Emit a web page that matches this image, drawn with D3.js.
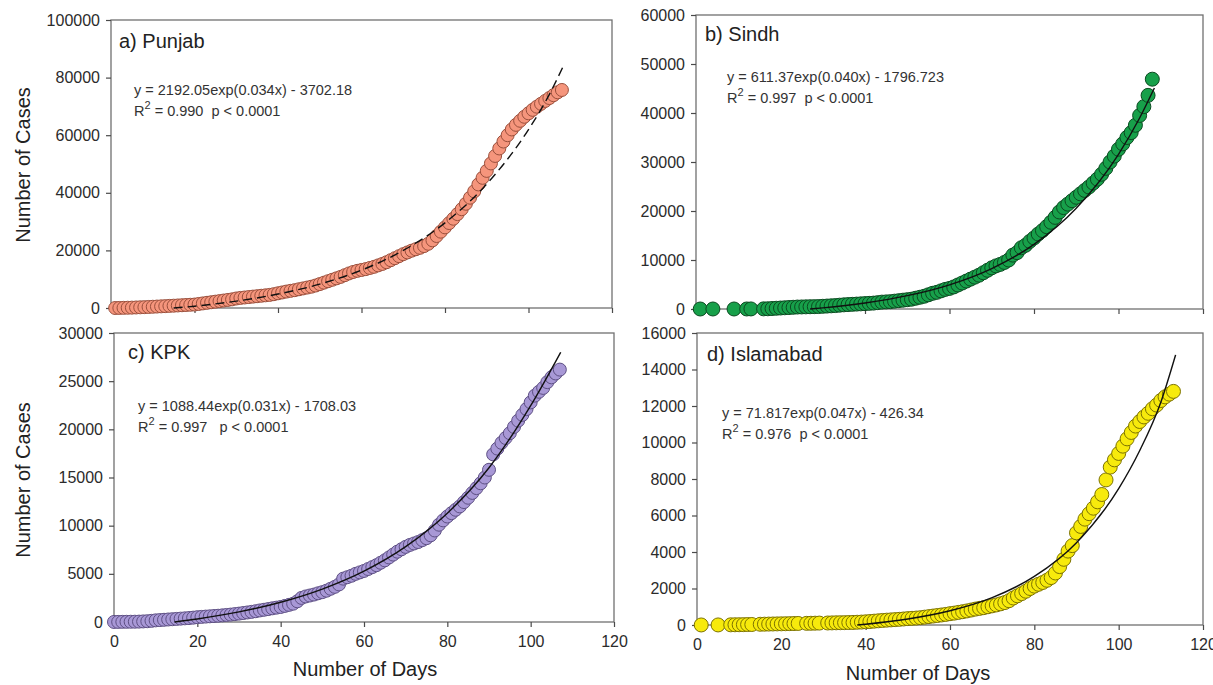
<!DOCTYPE html>
<html>
<head>
<meta charset="utf-8">
<script src="https://cdn.jsdelivr.net/npm/d3@7"></script>
<style>
body { margin: 0; background: #fff; }
svg { display: block; font-family: "Liberation Sans", Arial, sans-serif; }
</style>
</head>
<body>
<svg id="chart" width="1213" height="685"></svg>
<script>
// ---- data ----
var dayTicks = [0, 20, 40, 60, 80, 100, 120];

var punjabTicks = [0, 20000, 40000, 60000, 80000, 100000];
var punjabDays = [1,2,3,4,5,6,7,8,9,10,11,12,13,14,15,16,17,18,19,20,21,22,23,24,25,26,27,28,29,30,
	31,32,33,34,35,36,37,38,39,40,41,42,43,44,45,46,47,48,49,50,51,52,53,54,55,56,57,58,59,60,
	61,62,63,64,65,66,67,68,69,70,71,72,73,74,75,76,77,78,79,80,81,82,83,84,85,86,87,88,89,90,
	91,92,93,94,95,96,97,98,99,100,101,102,103,104,105,106,107,108];
var punjabCases = [0,20,50,90,130,180,240,300,360,430,500,570,650,730,800,880,960,1040,1120,1200,
	1400,1600,1800,2000,2200,2400,2600,2800,3000,3300,3500,3650,3800,3950,4100,4250,4400,4550,4800,5100,
	5400,5700,5950,6200,6500,6800,7100,7400,7800,8300,8800,9300,9800,10300,10800,11400,12000,12500,12900,13200,
	13500,13900,14300,14800,15300,15900,16600,17300,18000,18700,19300,19900,20400,20900,21500,22300,23500,25000,26500,28000,
	29500,31000,32600,34300,36200,38300,40500,42900,45200,47600,50200,52800,55400,57800,60000,62000,63600,65000,66400,67600,
	68800,69900,70900,71900,72900,73900,74900,75700];
var punjabFitDays = [15, 20, 30, 40, 50, 60, 70, 80, 90, 100, 105, 108.5];
var punjabFit = [0, 625, 2380, 4840, 8300, 13160, 19980, 29570, 43060, 61970, 74160, 84500];

var sindhTicks = [0, 10000, 20000, 30000, 40000, 50000, 60000];
var sindhDays = [1,4,9,12,13,16,17,18,19,20,21,22,23,24,25,26,27,28,29,30,
	31,32,33,34,35,36,37,38,39,40,41,42,43,44,45,46,47,48,49,50,51,52,53,54,55,56,57,58,59,60,
	61,62,63,64,65,66,67,68,69,70,71,72,73,74,75,76,77,78,79,80,81,82,83,84,85,86,87,88,89,90,
	91,92,93,94,95,96,97,98,99,100,101,102,103,104,105,106,107,108];
var sindhCases = [1,2,2,4,15,30,50,100,150,200,250,300,350,400,420,440,460,480,500,550,
	600,650,700,780,850,900,950,1000,1050,1100,1150,1200,1300,1400,1450,1500,1600,1700,1800,1900,2000,2200,2400,2600,2900,3200,3400,3700,4000,4200,
	4500,4900,5300,5700,6100,6500,6900,7400,7900,8400,8800,9100,9500,10000,11000,11500,12500,13000,13800,14500,15300,16000,16800,17700,18700,19800,20700,21400,22100,22800,
	23500,24200,24900,25700,26500,27500,28700,30000,31200,32600,33700,35000,36000,37500,39500,41300,43600,46900];
var sindhFitDays = [27, 30, 40, 50, 60, 70, 80, 90, 100, 105, 108.5];
var sindhFit = [0, 230, 1230, 2720, 4940, 8260, 13200, 20580, 31580, 38970, 45100];

var kpkTicks = [0, 5000, 10000, 15000, 20000, 25000, 30000];
var kpkDays = [0,1,2,3,4,5,6,7,8,9,10,11,12,13,14,15,16,17,18,19,20,21,22,23,24,25,26,27,28,29,30,
	31,32,33,34,35,36,37,38,39,40,41,42,43,44,45,46,47,48,49,50,51,52,53,54,55,56,57,58,59,60,
	61,62,63,64,65,66,67,68,69,70,71,72,73,74,75,76,77,78,79,80,81,82,83,84,85,86,87,88,89,90,
	91,92,93,94,95,96,97,98,99,100,101,102,103,104,105,106,107];
var kpkCases = [5,10,15,20,25,30,40,60,80,120,170,200,230,260,290,320,350,380,410,450,500,
	530,560,590,620,650,690,730,770,820,870,930,990,1050,1120,1200,1270,1340,1420,1490,1560,
	1670,1780,1900,2150,2500,2650,2750,2850,2980,3100,3250,3450,3650,3900,4500,4650,4800,5000,5150,5300,
	5500,5700,5900,6150,6400,6700,7000,7300,7550,7800,8000,8150,8300,8500,8700,9000,9500,10100,10550,10950,
	11300,11650,12000,12450,12900,13400,13900,14400,15000,15800,17400,18000,18600,19100,19600,20250,20900,21500,22100,22800,
	23500,23900,24300,24900,25400,25800,26200];
var kpkFitDays = [14.5, 20, 30, 40, 50, 60, 70, 80, 90, 100, 107.2];
var kpkFit = [0, 315, 1050, 2050, 3420, 5280, 7820, 11290, 16010, 22460, 28000];

var islamabadTicks = [0, 2000, 4000, 6000, 8000, 10000, 12000, 14000, 16000];
var islamabadDays = [1,5,8,9,10,11,12,13,15,16,17,18,19,20,21,22,23,24,26,27,28,29,31,32,33,34,35,36,37,38,39,40,
	41,42,43,44,45,46,47,48,49,50,51,52,53,54,55,56,57,58,59,60,61,62,63,64,65,66,67,68,69,70,
	71,72,73,74,75,76,77,78,79,80,81,82,83,84,85,86,87,88,89,90,91,92,93,94,95,96,97,98,99,100,
	101,102,103,104,105,106,107,108,109,110,111,112,113];
var islamabadCases = [2,4,10,12,15,20,25,28,40,45,50,55,60,65,70,75,80,85,90,95,100,105,110,115,120,125,130,135,140,150,160,175,
	190,210,230,250,265,280,295,310,330,350,365,380,400,430,460,490,520,550,580,620,650,690,730,770,820,870,910,950,1000,1050,
	1100,1160,1230,1330,1480,1600,1720,1850,2000,2130,2230,2330,2450,2600,2850,3200,3600,4050,4350,5050,5400,5800,6100,6400,6750,7150,7950,8650,9050,9400,
	9800,10200,10550,10900,11150,11400,11600,11850,12050,12300,12500,12650,12800];
var islamabadFitDays = [38, 40, 50, 60, 70, 80, 90, 100, 105, 110, 113.5];
var islamabadFit = [0, 45, 330, 780, 1500, 2660, 4510, 7470, 9560, 12210, 14800];

var svg = d3.select("#chart");

// panel boxes, in pixels
var panels = [
	{title: "a) Punjab", days: punjabDays, cases: punjabCases, fitDays: punjabFitDays, fit: punjabFit, ticks: punjabTicks,
	 left: 111, right: 612, top: 20, bottom: 308, fill: "#f5957c", stroke: "#9a4f3c", r: 6.5, dashed: true, dayLabels: false,
	 eq: "y = 2192.05exp(0.034x) - 3702.18", r2: " = 0.990  p < 0.0001", tx: 119, ty: 48, ex: 134, ey: 95},
	{title: "b) Sindh", days: sindhDays, cases: sindhCases, fitDays: sindhFitDays, fit: sindhFit, ticks: sindhTicks,
	 left: 696, right: 1203, top: 15, bottom: 309, fill: "#17a04a", stroke: "#0b4a20", r: 7, dashed: false, dayLabels: false,
	 eq: "y = 611.37exp(0.040x) - 1796.723", r2: " = 0.997  p < 0.0001", tx: 705, ty: 41, ex: 727, ey: 82},
	{title: "c) KPK", days: kpkDays, cases: kpkCases, fitDays: kpkFitDays, fit: kpkFit, ticks: kpkTicks,
	 left: 114, right: 614, top: 333, bottom: 622, fill: "#a898d6", stroke: "#5e5084", r: 6.5, dashed: false, dayLabels: true,
	 eq: "y = 1088.44exp(0.031x) - 1708.03", r2: " = 0.997   p < 0.0001", tx: 128, ty: 359, ex: 138, ey: 411},
	{title: "d) Islamabad", days: islamabadDays, cases: islamabadCases, fitDays: islamabadFitDays, fit: islamabadFit, ticks: islamabadTicks,
	 left: 697, right: 1203, top: 333, bottom: 625, fill: "#f7ea0c", stroke: "#7d7300", r: 7, dashed: false, dayLabels: true,
	 eq: "y = 71.817exp(0.047x) - 426.34", r2: " = 0.976  p < 0.0001", tx: 707, ty: 361, ex: 722, ey: 418}
];

panels.forEach(function(p) {
	var x = d3.scaleLinear().domain([0, 120]).range([p.left, p.right]);
	var y = d3.scaleLinear().domain([0, d3.max(p.ticks)]).range([p.bottom, p.top]);
	var g = svg.append("g");

	g.append("rect")
		.attr("x", p.left)
		.attr("y", p.top)
		.attr("width", p.right - p.left)
		.attr("height", p.bottom - p.top)
		.attr("fill", "#fff")
		.attr("stroke", "#707070")
		.attr("stroke-width", 1.3);

	var ya = g.append("g")
		.attr("transform", "translate(" + p.left + ",0)")
		.call(d3.axisLeft(y).tickValues(p.ticks).tickSize(5).tickPadding(6).tickFormat(d3.format("d")));
	ya.select(".domain").remove();

	var xa = g.append("g")
		.attr("transform", "translate(0," + p.bottom + ")")
		.call(d3.axisBottom(x).tickValues(dayTicks).tickSize(5).tickPadding(9)
			.tickFormat(p.dayLabels ? d3.format("d") : ""));
	xa.select(".domain").remove();

	g.selectAll(".tick line").attr("stroke", "#4a4a4a").attr("stroke-width", 1.2);
	g.selectAll(".tick text")
		.attr("fill", "#2b2b2b")
		.style("font-size", "16px")
		.style("font-family", "'Liberation Sans', Arial, sans-serif");

	// points
	g.append("g")
		.selectAll("circle")
		.data(p.days.map(function(d, i) { return {day: d, value: p.cases[i]}; }))
		.enter().append("circle")
		.attr("cx", function(d) { return x(d.day); })
		.attr("cy", function(d) { return y(d.value); })
		.attr("r", p.r)
		.attr("fill", p.fill)
		.attr("stroke", p.stroke)
		.attr("stroke-width", 1);

	// fitted curve
	var line = d3.line()
		.x(function(d) { return x(d[0]); })
		.y(function(d) { return y(d[1]); })
		.curve(d3.curveMonotoneX);
	g.append("path")
		.datum(p.fitDays.map(function(d, i) { return [d, p.fit[i]]; }))
		.attr("d", line)
		.attr("fill", "none")
		.attr("stroke", "#111")
		.attr("stroke-width", 1.4)
		.attr("stroke-dasharray", p.dashed ? "9,5" : null);

	g.append("text")
		.attr("x", p.tx)
		.attr("y", p.ty)
		.attr("fill", "#222")
		.style("font-size", "20px")
		.text(p.title);

	g.append("text")
		.attr("x", p.ex)
		.attr("y", p.ey)
		.attr("fill", "#333")
		.style("font-size", "14.5px")
		.text(p.eq);

	var r2 = g.append("text")
		.attr("x", p.ex)
		.attr("y", p.ey + 21)
		.attr("fill", "#333")
		.style("font-size", "14.5px")
		.style("white-space", "pre");
	r2.append("tspan").text("R");
	r2.append("tspan").attr("dy", -7).style("font-size", "11px").text("2");
	r2.append("tspan").attr("dy", 7).text(p.r2);
});

// axis titles
[[30, 165], [30, 480]].forEach(function(c) {
	svg.append("text")
		.attr("transform", "translate(" + c[0] + "," + c[1] + ") rotate(-90)")
		.attr("text-anchor", "middle")
		.attr("fill", "#222")
		.style("font-size", "20px")
		.text("Number of Cases");
});
[[365, 676], [918, 680]].forEach(function(c) {
	svg.append("text")
		.attr("x", c[0])
		.attr("y", c[1])
		.attr("text-anchor", "middle")
		.attr("fill", "#222")
		.style("font-size", "20px")
		.text("Number of Days");
});
</script>
</body>
</html>
